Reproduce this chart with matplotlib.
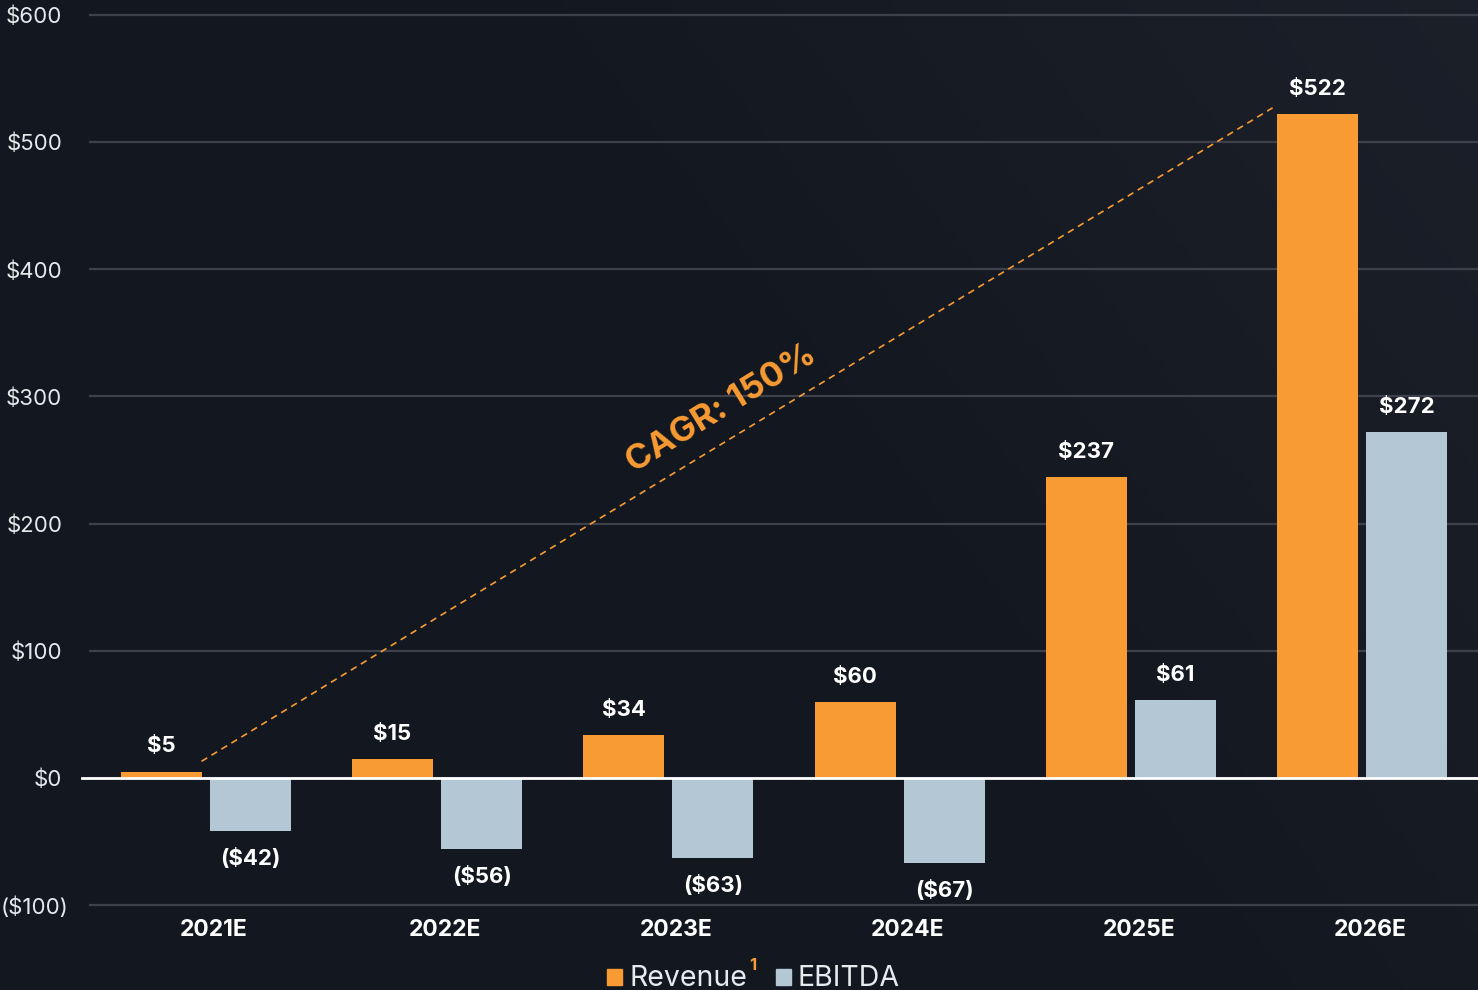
import matplotlib
matplotlib.use("Agg")
import matplotlib.pyplot as plt
import matplotlib.transforms as mtransforms
import numpy as np
from matplotlib.patches import Rectangle

years = ["2021E", "2022E", "2023E", "2024E", "2025E", "2026E"]
revenue = [5, 15, 34, 60, 237, 522]
ebitda = [-42, -56, -63, -67, 61, 272]
yticks = [-100, 0, 100, 200, 300, 400, 500, 600]
cagr_text = "CAGR: 150%"

ORANGE = "#F89B33"
BLUE = "#B4C7D5"
BG = "#131820"
GRID = "#3E414C"

plt.rcParams['font.family'] = ['Inter', 'DejaVu Sans']

fig = plt.figure(figsize=(14.78, 9.90), dpi=100)
fig.patch.set_facecolor(BG)

# subtle diagonal background gradient
bg = fig.add_axes([0, 0, 1, 1], zorder=-10)
gx, gy = np.meshgrid(np.linspace(0, 1, 300), np.linspace(0, 1, 200))
g = np.clip((gx - 0.55) * 1.2 + (0.5 - gy) * 0.6, 0, 1)
bg.imshow(g, cmap=matplotlib.colors.LinearSegmentedColormap.from_list("bg", [BG, "#1D212B"]),
          aspect="auto", extent=[0, 1, 0, 1], vmin=0, vmax=1)
bg.axis("off")

ax = fig.add_axes([90 / 1478, 85 / 990, 1 - 90 / 1478, 890 / 990])
ax.set_facecolor("none")

x = np.arange(len(years))
w = 0.35
off = 0.193
rb = ax.bar(x - off, revenue, w, color=ORANGE, zorder=3)
eb = ax.bar(x + off, ebitda, w, color=BLUE, zorder=3)

def fmt(v):
    return f"${v}" if v >= 0 else f"(${-v})"

for bars, vals in ((rb, revenue), (eb, ebitda)):
    for b, v in zip(bars, vals):
        dy = 18 if v >= 0 else -19.5
        ax.annotate(fmt(v), (b.get_x() + b.get_width() / 2, v), xytext=(0, dy),
                    textcoords="offset points", ha="center", va="center",
                    color="white", fontsize=16, fontweight="bold", zorder=5)

ax.set_xlim(-0.5, 5.5)
ax.set_ylim(-100, 600)
ax.set_yticks(yticks)
ax.set_yticklabels([fmt(v) for v in yticks], color="#E6E8EC", fontsize=16, fontweight="normal")
ax.set_xticks(x + 0.035)
ax.set_xticklabels(years, color="white", fontsize=16.5, fontweight="bold")
ax.tick_params(axis="both", length=0)
ax.tick_params(axis="y", pad=20)
ax.tick_params(axis="x", pad=10)
for lab in ax.get_yticklabels():
    if lab.get_text().startswith("("):
        lab.set_transform(lab.get_transform() + mtransforms.ScaledTranslation(6 / 100, 0, fig.dpi_scale_trans))
for s in ax.spines.values():
    s.set_visible(False)
ax.yaxis.grid(True, color=GRID, lw=1.6, zorder=0)
for gl in ax.get_ygridlines():
    gl.set_clip_on(False)
ax.axhline(0, xmin=-0.006, xmax=1, color="white", lw=2, zorder=4, clip_on=False)

# CAGR dashed line from first to last revenue bar
x0 = rb[0].get_x() + rb[0].get_width()
x1 = rb[-1].get_x() - 0.02
ax.plot([x0, x1], [revenue[0] + 8, revenue[-1] + 5], ls=(0, (4, 3)), color=ORANGE, lw=1.2, zorder=2)
ax.text(2.23, 290, cagr_text, rotation=31.5, rotation_mode="anchor", ha="center", va="center",
        color=ORANGE, fontsize=25, fontweight="bold", transform_rotates_text=False)

# legend
fig.patches.append(Rectangle((607 / 1478, 1 - 985 / 990), 15 / 1478, 16 / 990,
                             transform=fig.transFigure, color=ORANGE, figure=fig))
fig.text(629 / 1478, 1 - 986 / 990, "Revenue", color="#E8EAEE", fontsize=20.5, fontweight="normal",
         ha="left", va="baseline")
fig.text(749 / 1478, 1 - 970 / 990, "1", color=ORANGE, fontsize=12, fontweight="bold",
         ha="left", va="baseline")
fig.patches.append(Rectangle((776 / 1478, 1 - 985 / 990), 15 / 1478, 16 / 990,
                             transform=fig.transFigure, color=BLUE, figure=fig))
fig.text(797 / 1478, 1 - 986 / 990, "EBITDA", color="#E8EAEE", fontsize=20.5, fontweight="normal",
         ha="left", va="baseline")

fig.savefig("out.png", dpi=100, facecolor=BG)
